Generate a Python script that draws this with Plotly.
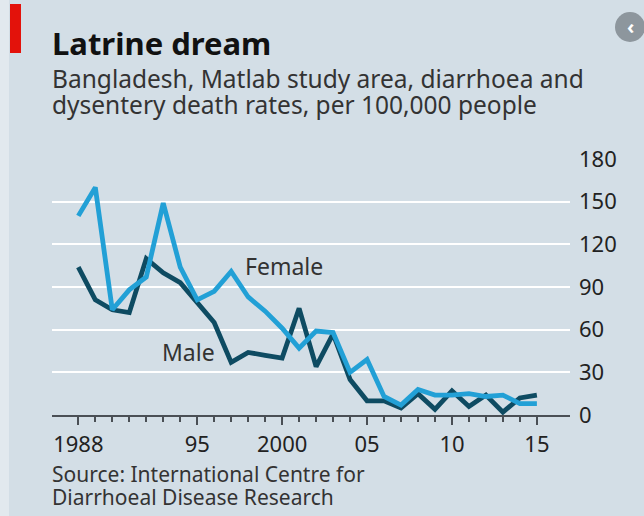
import plotly.graph_objects as go

# ---- data ----
years = list(range(1988, 2016))
female = [140, 160, 74, 88, 97, 149, 104, 81, 87, 101, 83, 73, 61, 47, 59, 58,
          30, 39, 13, 7, 18, 14, 14, 15, 13, 14, 8, 8]
male = [104, 81, 74, 72, 110, 100, 93, 79, 65, 37, 44, 42, 40, 75, 34, 57,
        25, 10, 10, 5, 15, 4, 17, 6, 14, 2, 12, 14]
x_tick_vals = [1988, 1990, 1995, 2000, 2005, 2010, 2015]
x_tick_text = ["1988", "", "95", "2000", "05", "10", "15"]
y_tick_vals = [0, 30, 60, 90, 120, 150, 180]

title = "Latrine dream"
subtitle_lines = ["Bangladesh, Matlab study area, diarrhoea and",
                  "dysentery death rates, per 100,000 people"]
source_lines = ["Source: International Centre for", "Diarrhoeal Disease Research"]

BG = "#d3dee6"
FEMALE_C = "#22a0d6"
MALE_C = "#0e4b62"
AXIS_C = "#4a4f55"
TEXT_C = "#222"
FONT = "Noto Sans"

W, H = 644, 516
L, R, T, B = 52, 74, 159, 101
PW, PH = W - L - R, H - T - B


def px(xpix):
    return (xpix - L) / PW


def py(ypix):
    return (H - B - ypix) / PH


fig = go.Figure()
fig.add_trace(go.Scatter(x=years, y=male, mode="lines", line=dict(color=MALE_C, width=4.8),
                         hoverinfo="skip", showlegend=False))
fig.add_trace(go.Scatter(x=years, y=female, mode="lines", line=dict(color=FEMALE_C, width=4.8),
                         hoverinfo="skip", showlegend=False))

xr = [1986.45, 2016.95]
fig.update_layout(
    width=W, height=H,
    margin=dict(l=L, r=R, t=T, b=B, pad=0),
    paper_bgcolor=BG, plot_bgcolor=BG,
    font=dict(family=FONT, color=TEXT_C),
    showlegend=False,
    xaxis=dict(range=xr, tickmode="array", tickvals=x_tick_vals, ticktext=x_tick_text,
               ticks="outside", ticklen=8, tickwidth=1.5, tickcolor=AXIS_C,
               minor=dict(tickmode="array", tickvals=years, ticks="outside", ticklen=5,
                          tickwidth=1.5, tickcolor=AXIS_C, showgrid=False),
               showgrid=False, zeroline=False, showline=True, linecolor=AXIS_C, linewidth=1.5,
               tickfont=dict(size=22, color=TEXT_C, family=FONT), ticklabelstandoff=1),
    yaxis=dict(range=[0, 180], side="right", tickvals=y_tick_vals, ticks="",
               showgrid=True, gridcolor="white", gridwidth=2, zeroline=False, showline=False,
               tickfont=dict(size=22, color=TEXT_C, family=FONT), ticklabelstandoff=8),
)

ann = []
ann.append(dict(text="<b>" + title + "</b>", x=px(50), y=py(20), xref="paper", yref="paper",
                xanchor="left", yanchor="top", showarrow=False,
                font=dict(size=31, color="#111", family=FONT)))
for i, line in enumerate(subtitle_lines):
    ann.append(dict(text=line, x=px(50), y=py(60 + 26 * i), xref="paper", yref="paper",
                    xanchor="left", yanchor="top", showarrow=False, align="left",
                    font=dict(size=24.5, color="#333", family=FONT)))
for i, line in enumerate(source_lines):
    ann.append(dict(text=line, x=px(50), y=py(458 + 23 * i), xref="paper", yref="paper",
                    xanchor="left", yanchor="top", showarrow=False, align="left",
                    font=dict(size=21, color="#333", family=FONT)))
ann.append(dict(text="Female", x=1997.7, y=104.5, xref="x", yref="y", xanchor="left",
                yanchor="middle", showarrow=False, font=dict(size=23, color="#333", family=FONT)))
ann.append(dict(text="Male", x=1992.8, y=44, xref="x", yref="y", xanchor="left",
                yanchor="middle", showarrow=False, font=dict(size=23, color="#333", family=FONT)))
ann.append(dict(text="<b>‹</b>", x=px(630), y=py(26), xref="paper", yref="paper",
                xanchor="center", yanchor="middle", showarrow=False,
                font=dict(size=20, color="white", family=FONT)))
fig.update_layout(annotations=ann)

fig.add_shape(type="rect", xref="paper", yref="paper", x0=px(0), x1=px(9), y0=py(0), y1=py(516),
              fillcolor="#e2e9ee", line=dict(width=0), layer="below")
fig.add_shape(type="rect", xref="paper", yref="paper", x0=px(10), x1=px(21), y0=py(4), y1=py(53),
              fillcolor="#e3120b", line=dict(width=0))
fig.add_shape(type="circle", xref="paper", yref="paper", x0=px(615), x1=px(645), y0=py(12), y1=py(42),
              fillcolor="#8d969d", line=dict(width=0))

fig.write_html("out.html")
